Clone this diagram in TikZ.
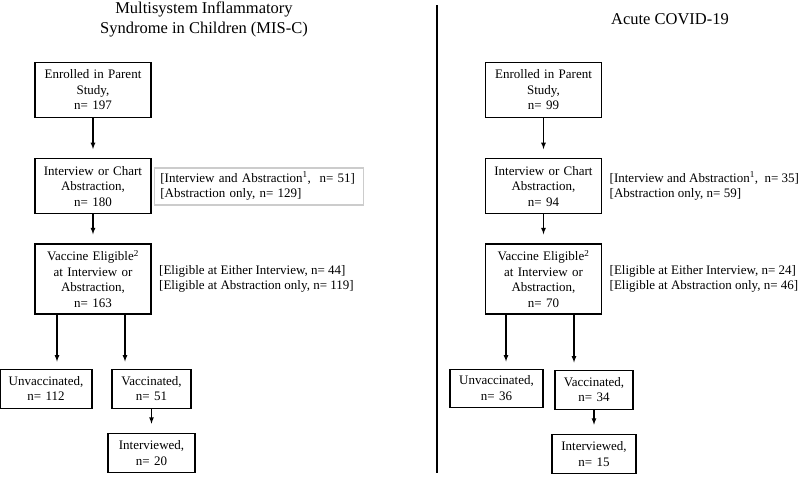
\documentclass[tikz,border=0pt]{standalone}
\usepackage{fontspec}
\setmainfont{Liberation Serif}
\usetikzlibrary{positioning,arrows}
\def\dy{40pt}
\tikzstyle{box}=[draw,line width=1.2pt,align=center,inner xsep=4pt,inner ysep=3pt,
  font=\fontsize{13}{15.5}\selectfont]
\tikzstyle{note}=[align=left,inner xsep=6pt,inner ysep=3pt,
  font=\fontsize{13}{15.5}\selectfont]
\tikzstyle{title}=[align=center,font=\fontsize{16.5}{20}\selectfont]
\newcommand{\newBox}[4]{\node[box,#3](#1)[#4]{#2};}
\newcommand{\newArrow}[2]{\draw[->] (#1) -- (#2);}

\begin{document}
\begin{tikzpicture}[x=1pt,y=-1pt,
      >=latex,shorten >=9pt,
      line width=1.2pt
      ]
      \useasboundingbox (0,0) rectangle (800,482);
      % MIS-C
      \node[title] (t1) at (204,19) {Multisystem Inflammatory\\Syndrome in Children (MIS-C)};
      \newBox{m1}{Enrolled in Parent\\Study,\\n= 197}{text width=108pt,minimum height=55pt}{at={(93,90)}}
      \newBox{m2}{Interview or Chart\\Abstraction,\\n= 180}{text width=108pt,minimum height=55pt}{below=\dy of m1}
      \newBox{m3}{Vaccine Eligible\textsuperscript{2}\\at Interview or\\Abstraction,\\n= 163}{text width=108pt,minimum height=70pt}{below=29pt of m2}
      \newBox{mu}{Unvaccinated,\\n= 112}{text width=84pt,minimum height=39pt}{below=54pt of m3,xshift=-47pt}
      \newBox{mv}{Vaccinated,\\n= 51}{text width=71pt,minimum height=39pt}{below=54pt of m3,xshift=58.5pt}
      \newBox{mi}{Interviewed,\\n= 20}{text width=79pt,minimum height=39pt}{below=24pt of mv}
      \node[note,draw=gray!40,line width=1.6pt,text width=197pt,minimum height=37pt,right=2pt of m2] (mn2)
        {{[}Interview and Abstraction\textsuperscript{1},~ n= 51]\\{[}Abstraction only, n= 129]};
      \node[note,right=1pt of m3] (mn3)
        {{[}Eligible at Either Interview, n= 44]\\{[}Eligible at Abstraction only, n= 119]};
      \coordinate (ma) at ([xshift=-36pt]m3.south);
      \coordinate (mb) at ([xshift=32pt]m3.south);
      \newArrow{m1}{m2}
      \newArrow{m2}{m3}
      \draw[->,shorten >=7pt] (ma) -- (ma |- mu.north);
      \draw[->,shorten >=7pt] (mb) -- (mb |- mv.north);
      \newArrow{mv}{mi}
      % divider
      \coordinate (d1) at (437,5);
      \coordinate (d2) at (437,482);
      \draw (d1) -- (d2);
      % Acute COVID-19
      \node[title] (t2) at (670,19) {Acute COVID-19};
      \newBox{c1}{Enrolled in Parent\\Study,\\n= 99}{text width=108pt,minimum height=55pt}{at={(543.5,90)}}
      \newBox{c2}{Interview or Chart\\Abstraction,\\n= 94}{text width=108pt,minimum height=55pt}{below=\dy of c1}
      \newBox{c3}{Vaccine Eligible\textsuperscript{2}\\at Interview or\\Abstraction,\\n= 70}{text width=108pt,minimum height=70pt}{below=29pt of c2}
      \newBox{cu}{Unvaccinated,\\n= 36}{text width=85pt,minimum height=38pt}{below=54pt of c3,xshift=-47pt}
      \newBox{cv}{Vaccinated,\\n= 34}{text width=70pt,minimum height=39pt}{below=55pt of c3,xshift=50.5pt}
      \newBox{ci}{Interviewed,\\n= 15}{text width=76pt,minimum height=39pt}{below=24pt of cv}
      \node[note,right=1pt of c2] (cn2)
        {{[}Interview and Abstraction\textsuperscript{1},~ n= 35]\\{[}Abstraction only, n= 59]};
      \node[note,right=1pt of c3] (cn3)
        {{[}Eligible at Either Interview, n= 24]\\{[}Eligible at Abstraction only, n= 46]};
      \coordinate (ca) at ([xshift=-37.5pt]c3.south);
      \coordinate (cb) at ([xshift=30.5pt]c3.south);
      \newArrow{c1}{c2}
      \newArrow{c2}{c3}
      \draw[->,shorten >=7pt] (ca) -- (ca |- cu.north);
      \draw[->,shorten >=7pt] (cb) -- (cb |- cv.north);
      \newArrow{cv}{ci}
\end{tikzpicture}
\end{document}
